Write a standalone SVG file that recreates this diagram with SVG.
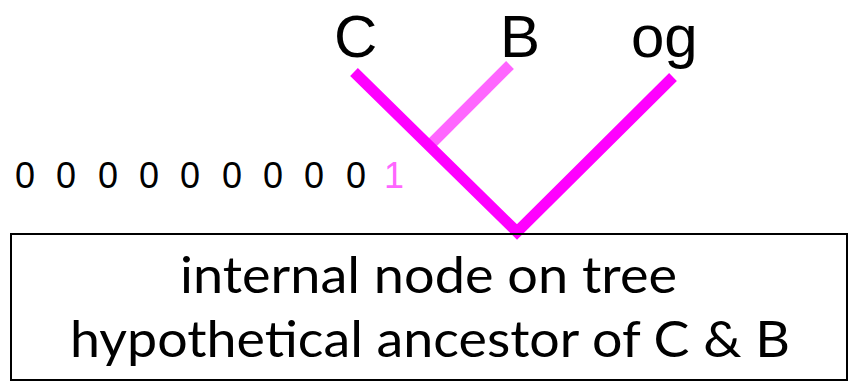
<svg xmlns="http://www.w3.org/2000/svg" width="849" height="382" viewBox="0 0 849 382">
  <style>
    .taxon { font-family: "Liberation Sans", Arial, sans-serif; font-size: 60px; fill: #000; }
    .state { font-family: "Liberation Sans", Arial, sans-serif; font-size: 36px; fill: #000; }
    .state .derived { fill: #ff66ff; }
    .branch { fill: none; stroke: #ff00ff; stroke-width: 11; stroke-linejoin: miter; }
    .branch.derived { stroke: #ff66ff; }
    .box { fill: none; stroke: #000; stroke-width: 2; }
    .caption { font-family: Lato, "Open Sans", sans-serif; font-size: 51px; fill: #000; }
  </style>

  <!-- branches of the tree -->
  <g id="connectors">
    <path class="branch derived" d="M510,65 L432,143"/>
    <path class="branch" d="M354,72 L517,232 L673,77"/>
  </g>

  <!-- tip labels -->
  <g id="taxon-C"><text class="taxon" x="334" y="57">C</text></g>
  <g id="taxon-B"><text class="taxon" x="500" y="57">B</text></g>
  <g id="taxon-og"><text class="taxon" x="631" y="57">og</text></g>

  <!-- character states -->
  <g id="states">
    <text class="state" y="188">
      <tspan x="15">0</tspan><tspan x="56">0</tspan><tspan x="98">0</tspan><tspan x="139">0</tspan><tspan x="180">0</tspan><tspan x="222">0</tspan><tspan x="263">0</tspan><tspan x="304">0</tspan><tspan x="346">0</tspan><tspan class="derived" x="384">1</tspan>
    </text>
  </g>

  <!-- ancestor node -->
  <g id="internal-node">
    <rect class="box" x="11" y="234" width="836" height="146"/>
    <text class="caption" x="180" y="293" textLength="497" lengthAdjust="spacingAndGlyphs">internal node on tree</text>
    <text class="caption" x="70" y="357" textLength="720" lengthAdjust="spacingAndGlyphs">hypothetical ancestor of C &amp; B</text>
  </g>
</svg>
